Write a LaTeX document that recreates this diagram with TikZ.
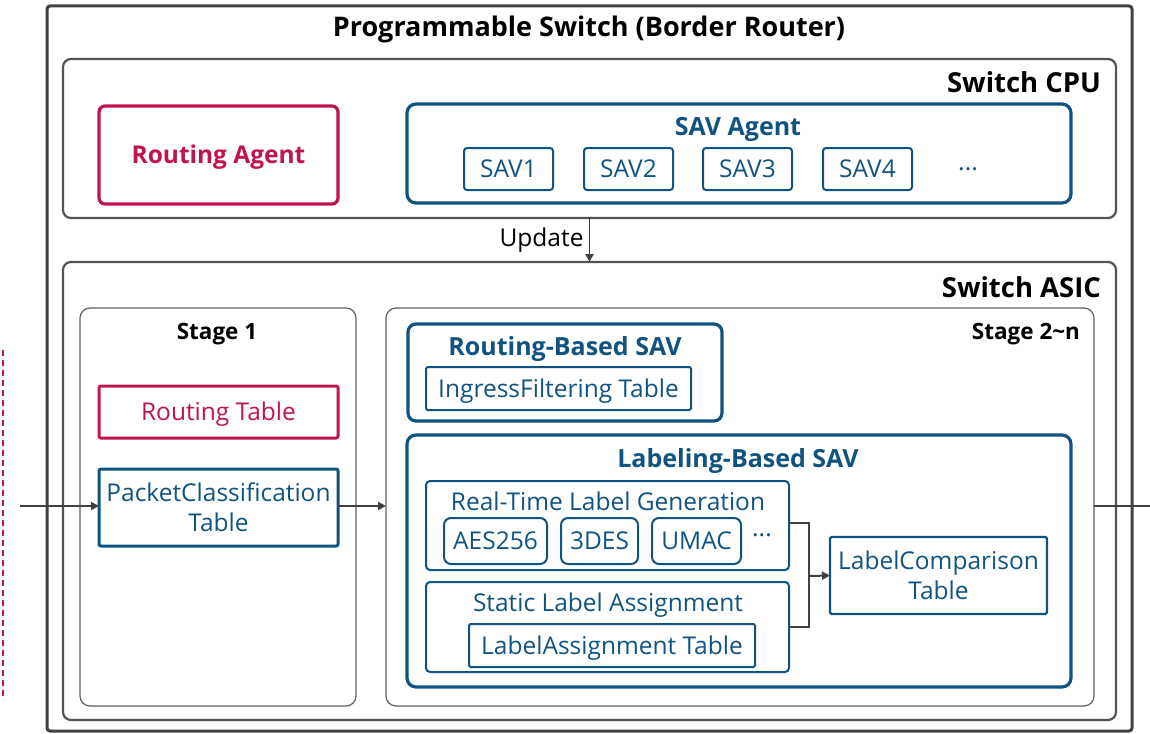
\documentclass[tikz,border=0pt]{standalone}
\usepackage{fontspec}
\setmainfont{Open Sans}
\usetikzlibrary{arrows.meta}
\definecolor{savblue}{RGB}{17,83,128}
\definecolor{routered}{RGB}{192,20,80}
\definecolor{frame}{RGB}{64,64,64}
\definecolor{stagegray}{RGB}{96,96,96}
\tikzset{
  x=1pt, y=-1pt,
  every node/.style={inner sep=0pt, outer sep=0pt},
  outerbox/.style={draw=frame, line width=3pt, rounded corners=3pt},
  unitbox/.style={draw=frame!90, line width=2.2pt, rounded corners=8pt},
  stagebox/.style={draw=stagegray, line width=1.2pt, rounded corners=10pt},
  bluegroup/.style={draw=savblue, line width=3.2pt, rounded corners=9pt},
  redgroup/.style={draw=routered, line width=3.2pt, rounded corners=6pt},
  redtable/.style={draw=routered, line width=3pt, rounded corners=2pt},
  bluetable/.style={draw=savblue, line width=3pt, rounded corners=2pt},
  subgroup/.style={draw=savblue, line width=2pt, rounded corners=4pt},
  innertable/.style={draw=savblue, line width=2pt, rounded corners=1.5pt},
  algobox/.style={draw=savblue, line width=2pt, rounded corners=7pt},
  savbox/.style={draw=savblue, line width=2pt, rounded corners=3pt},
  heading/.style={font=\fontsize{27.5}{32}\selectfont\bfseries, text=black},
  stagelabel/.style={font=\fontsize{22.5}{27}\selectfont\bfseries, text=black},
  blabel/.style={font=\fontsize{25}{30}\selectfont\bfseries, text=savblue},
  txt/.style={font=\fontsize{24.5}{30}\selectfont, text=savblue, align=center},
  % single-line text centred on its capitals
  captxt/.style={txt, text height=17.5pt, text depth=0pt},
  flow/.style={draw=frame, line width=2pt, -{Triangle[length=8pt,width=8pt]}},
  link/.style={draw=frame, line width=2pt},
}
\begin{document}
\begin{tikzpicture}
\useasboundingbox (0,0) rectangle (1150,733);

% switch chassis
\node[outerbox, minimum width=1085, minimum height=725] (switch) at (589.5,368.5) {};
\node[font=\fontsize{27}{32}\selectfont\bfseries] (title) at (589,29) {Programmable Switch (Border Router)};

% control plane
\node[unitbox, minimum width=1053, minimum height=159] (cpu) at (589.5,138.5) {};
\node[heading, anchor=east] (cpulbl) at (1101,82) {Switch CPU};
\node[redgroup, minimum width=239, minimum height=98] (ragent) at (218.5,155) {};
\node[font=\fontsize{24.5}{29}\selectfont\bfseries, text=routered] (ragentlbl) at (218.5,157) {Routing Agent};
\node[bluegroup, minimum width=664, minimum height=99] (savagent) at (739,153.5) {};
\node[blabel] (savagentlbl) at (738,129) {SAV Agent};
\node[savbox, minimum width=89, minimum height=42, captxt] (sav1) at (508.5,169) {SAV1};
\node[savbox, minimum width=89, minimum height=42, captxt] (sav2) at (628.5,169) {SAV2};
\node[savbox, minimum width=89, minimum height=42, captxt] (sav3) at (747.5,169) {SAV3};
\node[savbox, minimum width=89, minimum height=42, captxt] (sav4) at (867.5,169) {SAV4};
\node[txt] (savmore) at (968,169) {...};

% data plane
\node[unitbox, minimum width=1053, minimum height=458] (asic) at (589.5,491) {};
\node[heading, anchor=east] (asiclbl) at (1101,287) {Switch ASIC};

\draw[flow, line width=1.8pt] (cpu.south) -- node[left=6pt, font=\fontsize{24.5}{29}\selectfont, text=black] (updlbl) {Update} (asic.north);

% stage 1
\node[stagebox, minimum width=276, minimum height=398] (stage1) at (218,507) {};
\node[stagelabel] (stage1lbl) at (217,334) {Stage 1};
\node[redtable, minimum width=239, minimum height=52, captxt, text=routered] (rtable) at (218.5,412) {Routing Table};
\node[bluetable, minimum width=239, minimum height=77, txt] (pctable) at (218.5,507.5) {PacketClassification\\Table};

% stages 2..n
\node[stagebox, minimum width=708, minimum height=398] (stage2) at (740,507) {};
\node[stagelabel, anchor=east] (stage2lbl) at (1080,334) {Stage 2\textasciitilde n};

\node[bluegroup, rounded corners=8pt, minimum width=314, minimum height=97] (rbsav) at (565,372.5) {};
\node[blabel] (rbsavlbl) at (565,349) {Routing-Based SAV};
\node[innertable, minimum width=265, minimum height=43, captxt] (ingress) at (558.5,388.5) {IngressFiltering Table};

\node[bluegroup, minimum width=664, minimum height=252] (lbsav) at (739,561) {};
\node[blabel] (lbsavlbl) at (738,461) {Labeling-Based SAV};

\node[subgroup, minimum width=363, minimum height=89] (rtgen) at (607.5,525.5) {};
\node[txt] (rtgenlbl) at (608,501) {Real-Time Label Generation};
\node[algobox, minimum width=103, minimum height=46, captxt] (aes) at (495.5,541) {AES256};
\node[algobox, minimum width=77, minimum height=46, captxt] (des) at (599.5,541) {3DES};
\node[algobox, minimum width=89, minimum height=46, captxt] (umac) at (696.5,541) {UMAC};
\node[txt] (algmore) at (762,535) {...};

\node[subgroup, minimum width=363, minimum height=90] (static) at (607.5,627) {};
\node[txt] (staticlbl) at (608,605) {Static Label Assignment};
\node[innertable, minimum width=286, minimum height=43, captxt] (latable) at (612,645.5) {LabelAssignment Table};

\node[innertable, line width=2.2pt, minimum width=217, minimum height=77, txt] (lctable) at (938.5,575.5) {LabelComparison\\Table};

% label paths merge into the comparison table
\coordinate (join) at (809,576);
\draw[link] (rtgen.east |- 0,523) -| (join);
\draw[link] (static.east) -| (join);
\draw[flow] (join) -- (lctable.west);

% packet path
\coordinate (pktin) at (20,506);
\coordinate (pktout) at (1150,506);
\draw[flow] (pktin) -- (pctable.west |- pktin);
\draw[flow] (pctable.east |- pktin) -- (stage2.west |- pktin);
\draw[link] (stage2.east |- pktout) -- (pktout);

% dashed boundary at the far left
\coordinate (dtop) at (2.5,350);
\coordinate (dbot) at (2.5,700);
\draw[draw=routered, line width=2pt, dash pattern=on 6pt off 4pt] (dtop) -- (dbot);
\end{tikzpicture}
\end{document}
